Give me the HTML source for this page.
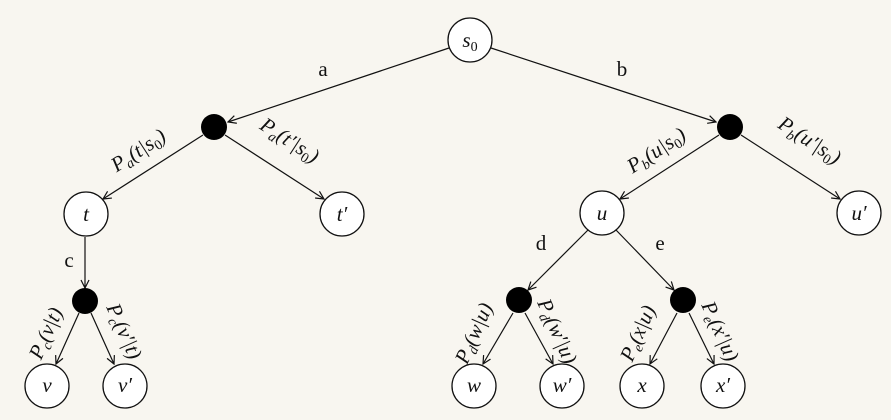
<!DOCTYPE html>
<html><head><meta charset="utf-8"><style>
html,body{margin:0;padding:0;background:#f8f6f0;}
svg{display:block;}
text,tspan{font-family:"Liberation Serif","DejaVu Serif","Times New Roman",serif;font-size:21px;fill:#111;}
tspan.s{font-size:14px;}
.i{font-style:italic;}
</style></head><body>
<svg width="891" height="420" viewBox="0 0 891 420">
<defs><marker id="ar" markerWidth="10" markerHeight="10" refX="9" refY="5" orient="auto" markerUnits="userSpaceOnUse"><path d="M1,1 L9,5 L1,9" fill="none" stroke="#111" stroke-width="1.2"/></marker></defs>
<rect width="891" height="420" fill="#f8f6f0"/>
<g stroke="#111" stroke-width="1.2" fill="none" marker-end="url(#ar)">
<line x1="449" y1="48" x2="228" y2="122"/>
<line x1="491" y1="48" x2="716" y2="122"/>
<line x1="203" y1="135" x2="103" y2="199"/>
<line x1="225" y1="135" x2="324" y2="199"/>
<line x1="719" y1="135" x2="620" y2="199"/>
<line x1="741" y1="135" x2="840" y2="199"/>
<line x1="85" y1="237" x2="85" y2="288"/>
<line x1="79" y1="313" x2="56" y2="364"/>
<line x1="91" y1="313" x2="114" y2="364"/>
<line x1="588" y1="230" x2="528" y2="290"/>
<line x1="616" y1="230" x2="674" y2="290"/>
<line x1="513" y1="313" x2="483" y2="364"/>
<line x1="525" y1="313" x2="553" y2="364"/>
<line x1="677" y1="313" x2="650" y2="364"/>
<line x1="689" y1="313" x2="714" y2="364"/>
</g>
<g stroke="#111" stroke-width="1.3" fill="#fff">
<circle cx="470" cy="40" r="22"/>
<circle cx="86" cy="214" r="22"/><circle cx="342" cy="214" r="22"/>
<circle cx="602" cy="213" r="22"/><circle cx="859" cy="213" r="22"/>
<circle cx="47" cy="386" r="22"/><circle cx="125" cy="386" r="22"/>
<circle cx="474" cy="386" r="22"/><circle cx="562" cy="386" r="22"/>
<circle cx="642" cy="386" r="22"/><circle cx="723" cy="386" r="22"/>
</g>
<g fill="#000">
<circle cx="214" cy="127" r="13"/><circle cx="730" cy="127" r="13"/>
<circle cx="85" cy="301" r="13"/><circle cx="519" cy="300" r="13"/><circle cx="683" cy="300" r="13"/>
</g>
<g text-anchor="middle">
<text x="470" y="47" class="i">s<tspan class="s" dy="4" font-style="normal">0</tspan></text>
<text x="86" y="221" class="i">t</text><text x="342" y="221" class="i">t′</text>
<text x="602" y="220" class="i">u</text><text x="859" y="220" class="i">u′</text>
<text x="47" y="392" class="i">v</text><text x="125" y="392" class="i">v′</text>
<text x="474" y="392" class="i">w</text><text x="562" y="392" class="i">w′</text>
<text x="642" y="392" class="i">x</text><text x="723" y="392" class="i">x′</text>
<text x="323" y="76">a</text><text x="622" y="76">b</text>
<text x="69" y="267">c</text><text x="541" y="250">d</text><text x="660" y="250">e</text>
</g>
<g text-anchor="middle" class="i">
<text transform="translate(142,156) rotate(-33)">P<tspan class="s" dy="4">a</tspan><tspan dy="-4">(t|s</tspan><tspan class="s" dy="4" font-style="normal">0</tspan><tspan dy="-4">)</tspan></text>
<text transform="translate(286,146) rotate(33)">P<tspan class="s" dy="4">a</tspan><tspan dy="-4">(t′|s</tspan><tspan class="s" dy="4" font-style="normal">0</tspan><tspan dy="-4">)</tspan></text>
<text transform="translate(660,156) rotate(-33)">P<tspan class="s" dy="4">b</tspan><tspan dy="-4">(u|s</tspan><tspan class="s" dy="4" font-style="normal">0</tspan><tspan dy="-4">)</tspan></text>
<text transform="translate(806,146) rotate(33)">P<tspan class="s" dy="4">b</tspan><tspan dy="-4">(u′|s</tspan><tspan class="s" dy="4" font-style="normal">0</tspan><tspan dy="-4">)</tspan></text>
<text transform="translate(52,336) rotate(-66)">P<tspan class="s" dy="4">c</tspan><tspan dy="-4">(v|t)</tspan></text>
<text transform="translate(118,334) rotate(66)">P<tspan class="s" dy="4">c</tspan><tspan dy="-4">(v′|t)</tspan></text>
<text transform="translate(480,336) rotate(-66)">P<tspan class="s" dy="4">d</tspan><tspan dy="-4">(w|u)</tspan></text>
<text transform="translate(551,334) rotate(66)">P<tspan class="s" dy="4">d</tspan><tspan dy="-4">(w′|u)</tspan></text>
<text transform="translate(644,336) rotate(-66)">P<tspan class="s" dy="4">e</tspan><tspan dy="-4">(x|u)</tspan></text>
<text transform="translate(714,334) rotate(66)">P<tspan class="s" dy="4">e</tspan><tspan dy="-4">(x′|u)</tspan></text>
</g>
</svg>
</body></html>
